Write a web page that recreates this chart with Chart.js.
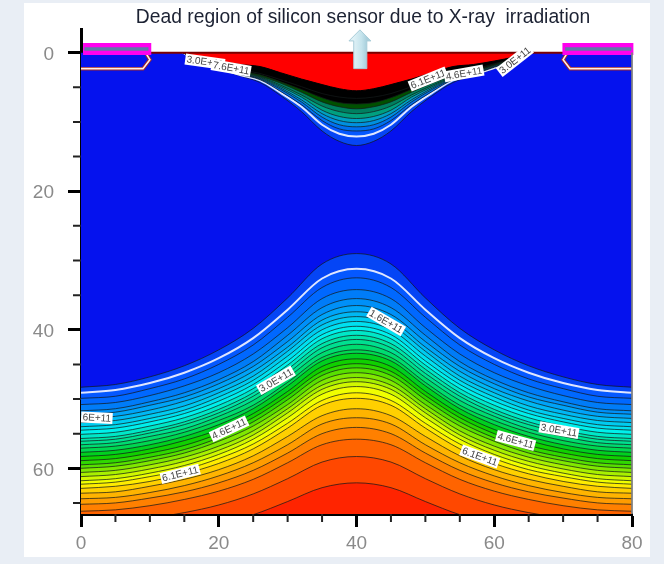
<!DOCTYPE html>
<html><head><meta charset="utf-8">
<style>
html,body{margin:0;padding:0;background:#e9eef5;width:664px;height:564px;overflow:hidden}
#panel{position:absolute;left:24px;top:3px;width:626px;height:554px;background:#fff}
#wrap{position:absolute;left:0;top:0;width:664px;height:564px;filter:blur(0.55px)}
</style>
<script src="https://cdn.jsdelivr.net/npm/chart.js@4"></script>
</head><body><div id="panel"></div><div id="wrap"><canvas id="c" width="664" height="564"></canvas></div>
<script>
const titleText = "Dead region of silicon sensor due to X-ray  irradiation";
const xMajorTicks = [0,20,40,60,80];
const yMajorTicks = [0,20,40,60];
const xMinorTicks = [5,10,15,25,30,35,45,50,55,65,70,75];
const yMinorTicks = [5,10,15,25,30,35,45,50,55,65];

// Lower family of contours: depth at x = 0,5,...,40 (mirrored about x = 40)
const halfX = [0,5,10,15,20,25,30,35,40];
const c00=[48.3,47.9,46.8,45.2,42.9,39.8,35.4,30.5,29.0];
const c01=[49.1,48.7,47.7,46.2,44.1,41.2,37.1,32.6,31.2];
const c02=[49.9,49.6,48.5,47.1,45.0,42.2,38.2,33.9,32.5];
const c03=[50.8,50.5,49.5,48.1,46.2,43.5,39.7,35.5,34.2];
const c04=[51.7,51.4,50.4,49.1,47.2,44.6,40.8,36.8,35.5];
const c05=[52.2,51.9,50.9,49.7,47.8,45.3,41.7,37.8,36.5];
const c06=[52.8,52.5,51.6,50.3,48.5,46.0,42.5,38.6,37.4];
const c07=[53.4,53.1,52.2,51.0,49.1,46.7,43.1,39.3,38.1];
const c08=[54.0,53.7,52.8,51.6,49.7,47.3,43.8,40.0,38.8];
const c09=[54.5,54.2,53.3,52.1,50.3,47.9,44.5,40.7,39.5];
const c10=[55.1,54.8,53.9,52.7,50.9,48.5,45.1,41.3,40.1];
const c11=[55.7,55.4,54.5,53.3,51.5,49.1,45.7,42.0,40.8];
const c12=[56.1,55.8,54.9,53.7,52.0,49.6,46.3,42.6,41.4];
const c13=[56.6,56.3,55.4,54.3,52.5,50.2,46.9,43.3,42.1];
const c14=[57.1,56.8,56.0,54.8,53.1,50.9,47.6,44.0,42.9];
const c15=[57.7,57.4,56.6,55.4,53.7,51.4,48.1,44.5,43.4];
const c16=[58.3,58.0,57.2,56.0,54.4,52.1,48.9,45.3,44.2];
const c17=[58.9,58.6,57.8,56.7,55.0,52.7,49.5,46.0,44.9];
const c18=[59.5,59.2,58.4,57.3,55.6,53.3,50.1,46.6,45.5];
const c19=[60.0,59.7,58.9,57.8,56.1,53.9,50.8,47.3,46.2];
const c20=[60.6,60.3,59.5,58.4,56.8,54.6,51.4,48.0,46.9];
const c21=[61.2,60.9,60.1,59.0,57.4,55.2,52.0,48.6,47.5];
const c22=[61.8,61.5,60.7,59.6,58.0,55.8,52.7,49.3,48.2];
const c23=[62.3,62.0,61.2,60.2,58.6,56.5,53.5,50.2,49.1];
const c24=[62.9,62.6,61.9,60.8,59.3,57.2,54.2,50.9,49.9];
const c25=[63.6,63.4,62.6,61.6,60.2,58.2,55.4,52.4,51.4];
const c26=[64.4,64.2,63.5,62.5,61.1,59.2,56.6,53.6,52.7];
const c27=[65.2,65.0,64.3,63.4,62.1,60.3,57.8,55.0,54.1];
const c28=[66.2,66.0,65.4,64.5,63.3,61.6,59.2,56.6,55.8];
const c29=[68.0,67.8,67.2,66.4,65.3,63.7,61.5,59.1,58.3];
const c30=[70.3,70.1,69.6,69.0,68.0,66.7,64.8,62.8,62.1];
const lowerContours=[c00,c01,c02,c03,c04,c05,c06,c07,c08,c09,c10,c11,c12,c13,c14,c15,c16,c17,c18,c19,c20,c21,c22,c23,c24,c25,c26,c27,c28,c29,c30];
const lowerColors=["#0545f5","#0558ff","#0068ff","#007cf8","#0090f8","#00a4f8","#00b8f4","#00ccf0","#00e0f0","#00f0ec","#00e8c8","#00e4a8","#00e090","#00dc70","#00d850","#00d020","#10d000","#30d800","#58e000","#80e800","#a8f000","#d0f800","#f0ff00","#ffec00","#ffd000","#ffb400","#ff9c00","#ff8000","#ff6400","#ff4800","#ff2400"];

// Upper well of contours below the irradiated surface
const wellX=[14.8,17,20,23,26,29,32,35,37.5,40];
const u0=[0,1.2,2.3,3.3,4.3,6.2,8.5,11.3,12.8,13.4];
const u1=[0,1.2,2.2,3.2,4.0,5.8,7.8,10.4,11.7,12.1];
const u2=[0,1.1,2.1,3.1,3.9,5.6,7.5,9.8,11.0,11.3];
const u3=[0,1.0,2.0,3.0,3.8,5.3,7.1,9.3,10.4,10.7];
const u4=[0,1.0,2.0,3.0,3.7,5.1,6.8,8.8,9.8,10.1];
const u5=[0,0.9,1.9,2.9,3.6,4.9,6.4,8.3,9.2,9.5];
const u6=[0,0.9,1.8,2.8,3.5,4.7,6.1,7.7,8.5,8.8];
const u7=[0,0.9,1.8,2.7,3.4,4.4,5.7,7.1,7.8,8.1];
const u8=[0,0.8,1.7,2.6,3.2,4.2,5.3,6.5,7.2,7.4];
const uBlack=[0,0.8,1.6,2.4,3.0,3.9,4.9,5.9,6.4,6.6];
const uRed=[0,0.6,1.2,1.7,2.0,2.9,3.8,4.6,5.2,5.5];
const upperContours=[u0,u1,u2,u3,u4,u5,u6,u7,u8,uBlack,uRed];
const upperColors=["#0545f5","#0558ff","#0070f0","#0090e0","#00a0c0","#00a080","#008060","#005000","#000000","#000000","#ff0000"];

const contourLabels=["3.0E+11","7.6E+11","6.1E+11","4.6E+11","3.0E+11","1.6E+11","6E+11","3.0E+11","4.6E+11","6.1E+11","6.1E+11","4.6E+11","3.0E+11"];
const labelX=[18.0,21.8,50.4,55.6,63.0,44.3,2.3,28.3,21.5,14.4,57.9,63.1,69.4];
const labelY=[1.3,2.2,3.8,3.0,1.1,38.8,52.7,47.3,54.3,60.8,58.3,56.0,54.5];
const labelAngle=[8,10,-22,-10,-38,30,3,-30,-25,-14,20,15,10];

const contactLeftX=[0,9.0,10,9.5];
const contactRightX=[80,71.0,70,70.5];
const contactY=[2.3,2.3,1.0,0.2];
const padLeftX=[0.3,10.2];
const padRightX=[69.9,80.2];
const padY=[-0.55,-0.55];
const padCoreLeftX=[0.5,9.8];
const padCoreRightX=[70.3,79.9];
const surfaceX=[10,70];
const surfaceY=[0,0];
const arrowX=[40.5,38.9,39.6,39.6,41.5,41.5,42.1,40.5];
const arrowY=[-3.3,-1.7,-1.7,2.3,2.3,-1.7,-1.7,-3.3];

const yTop=-3.4, yBottom=66.6;
const pts=(xs,ys)=>xs.map((x,i)=>({x,y:ys[i]}));
const full=(xs,ys)=>{
  const right=xs.slice(0,-1).reverse().map(x=>80-x);
  return pts(xs.concat(right),ys.concat(ys.slice(0,-1).reverse()));
};
const datasets=[];
const line=(data,opt)=>datasets.push(Object.assign({data,pointRadius:0,borderWidth:1,fill:false,borderColor:'#000'},opt));

// datasets are drawn from last to first; "order" puts the earliest pushed at the back
line(pts([0,80],[0,0]),{fill:{value:yBottom},backgroundColor:'#0512ee',borderWidth:0});
lowerContours.forEach((c,k)=>line(full(halfX,c),{
  fill:{value:yBottom},backgroundColor:lowerColors[k],
  cubicInterpolationMode:'monotone',
  borderColor:k===1?'#dfe6ff':'rgba(20,25,25,0.72)',borderWidth:k===1?2:1}));
upperContours.forEach((c,k)=>line(full(wellX,c),{
  fill:{value:0},backgroundColor:upperColors[k],
  cubicInterpolationMode:'monotone',
  borderColor:k===1?'#dfe6ff':(k===10?'#000':'rgba(20,25,25,0.72)'),borderWidth:k===1?2:1}));
line(pts(surfaceX,surfaceY),{borderColor:'#7a0000',borderWidth:2,clip:false});
[contactLeftX,contactRightX].forEach(xs=>{
  line(pts(xs,contactY),{borderColor:'#a02828',borderWidth:3.5});
  line(pts(xs,contactY),{borderColor:'#ffeee8',borderWidth:1.6});
});
[padLeftX,padRightX].forEach(xs=>{
  line(pts(xs,padY),{borderColor:'#ff00ee',borderWidth:12,clip:false});
});
[padCoreLeftX,padCoreRightX].forEach(xs=>{
  line(pts(xs,padY),{borderColor:'#5f78a8',borderWidth:3.5,clip:false});
});
line(pts([80,80],[0,yBottom]),{borderColor:'#808080',borderWidth:1,clip:false});
datasets.forEach((d,i)=>d.order=-i);

const overlay={
  id:'overlay',
  afterLayout(chart){ if(chart.titleBlock){chart.titleBlock.left=94;chart.titleBlock.right=632;} },
  afterDatasetsDraw(chart){
    const {ctx,scales:{x,y}}=chart;
    ctx.save();
    // minor ticks
    ctx.strokeStyle='#222';ctx.lineWidth=2;
    const bottom=y.getPixelForValue(yBottom), left=x.getPixelForValue(0);
    ctx.beginPath();
    xMinorTicks.forEach(v=>{const p=x.getPixelForValue(v);ctx.moveTo(p,bottom);ctx.lineTo(p,bottom+8);});
    yMinorTicks.forEach(v=>{const p=y.getPixelForValue(v);ctx.moveTo(left,p);ctx.lineTo(left-8,p);});
    ctx.stroke();
    // contour labels
    ctx.font='10px "Liberation Sans"';ctx.textAlign='center';ctx.textBaseline='middle';
    contourLabels.forEach((t,i)=>{
      const w=ctx.measureText(t).width+3;
      ctx.save();
      ctx.beginPath();ctx.rect(left,0,chart.chartArea.right-left,chart.height);ctx.clip();
      ctx.translate(x.getPixelForValue(labelX[i]),y.getPixelForValue(labelY[i]));
      ctx.rotate(labelAngle[i]*Math.PI/180);
      ctx.fillStyle='#fff';ctx.fillRect(-w/2,-5.5,w,11);
      ctx.fillStyle='#444';ctx.fillText(t,0,0.5);
      ctx.restore();
    });
    // upward arrow
    const g=ctx.createLinearGradient(x.getPixelForValue(39.6),0,x.getPixelForValue(41.5),0);
    g.addColorStop(0,'#dff1f6');g.addColorStop(0.6,'#c4e3ec');g.addColorStop(1,'#a8cfdc');
    ctx.fillStyle=g;ctx.strokeStyle='#a8ccd8';ctx.lineWidth=1;
    ctx.beginPath();
    arrowX.forEach((v,i)=>{const a=x.getPixelForValue(v),b=y.getPixelForValue(arrowY[i]);i?ctx.lineTo(a,b):ctx.moveTo(a,b);});
    ctx.closePath();ctx.fill();ctx.stroke();
    ctx.restore();
  }
};

new Chart(document.getElementById('c'),{
  type:'line',
  data:{datasets},
  plugins:[overlay],
  options:{
    responsive:false,animation:false,
    layout:{padding:{left:0,right:32,top:0,bottom:0}},
    plugins:{
      legend:{display:false},tooltip:{enabled:false},
      title:{display:true,text:titleText,color:'#1c2233',
        font:{family:'"Liberation Sans"',size:19.3,weight:'normal'},
        padding:{top:6,bottom:0}}
    },
    scales:{
      x:{type:'linear',min:0,max:80,
        afterBuildTicks:s=>{s.ticks=xMajorTicks.map(value=>({value}));},
        afterFit:s=>{s.height=50;},
        border:{color:'#000',width:3},
        grid:{drawOnChartArea:false,tickLength:13,tickColor:'#000',tickWidth:3},
        ticks:{color:'#8a8a8a',padding:5,maxRotation:0,autoSkip:false,font:{family:'"Liberation Sans"',size:19}}},
      y:{type:'linear',reverse:true,min:yTop,max:yBottom,
        afterBuildTicks:s=>{s.ticks=yMajorTicks.map(value=>({value}));},
        afterFit:s=>{s.width=81;},
        border:{color:'#000',width:3},
        grid:{drawOnChartArea:false,tickLength:13,tickColor:'#000',tickWidth:3},
        ticks:{color:'#8a8a8a',padding:14,labelOffset:2,autoSkip:false,font:{family:'"Liberation Sans"',size:19}}}
    }
  }
});
</script></body></html>
